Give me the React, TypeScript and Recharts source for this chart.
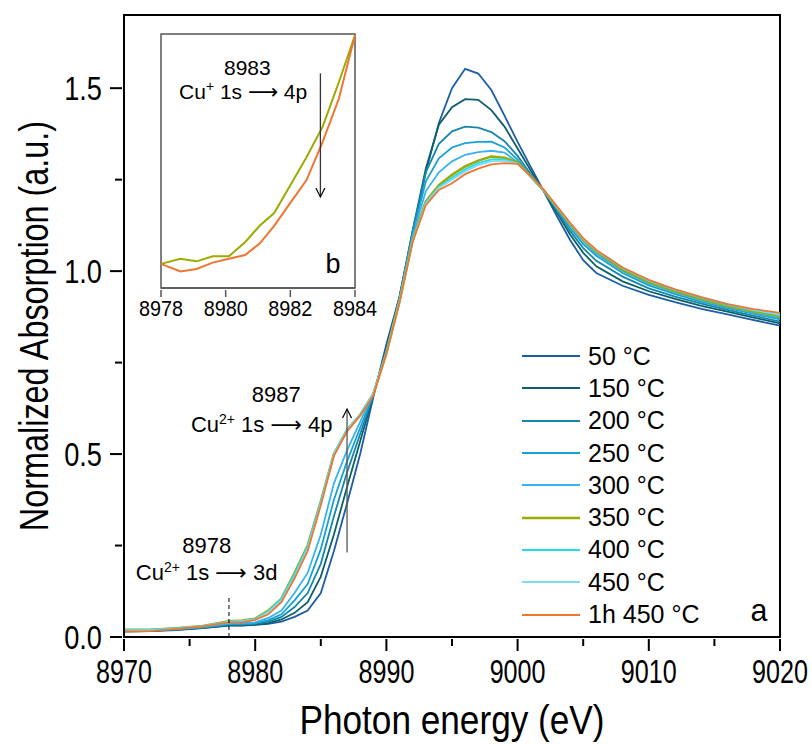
import { LineChart, Line, XAxis, YAxis, ReferenceArea, ReferenceLine, ReferenceDot } from "recharts";

const FONT = '"Liberation Sans", Arial, sans-serif';

// photon energy grid (eV)
const energies = [
  8970, 8972, 8974, 8976, 8978, 8979, 8980, 8981, 8982, 8983, 8984, 8985, 8986, 8987, 8988, 8989, 8990, 8991, 8992, 8993,
  8994, 8995, 8996, 8997, 8998, 8999, 9000, 9001, 9002, 9003, 9004, 9005, 9006, 9008, 9010, 9012, 9014, 9016, 9018, 9020,
];

const t50 = [
  0.015, 0.016, 0.019, 0.024, 0.031, 0.031, 0.033, 0.036, 0.042, 0.055, 0.072, 0.12, 0.235, 0.365, 0.5, 0.655, 0.8, 0.93, 1.1, 1.27,
  1.405, 1.5, 1.553, 1.54, 1.495, 1.425, 1.353, 1.285, 1.218, 1.15, 1.085, 1.03, 0.995, 0.96, 0.935, 0.915, 0.897, 0.882, 0.866, 0.851,
];
const t150 = [
  0.016, 0.017, 0.02, 0.025, 0.032, 0.032, 0.034, 0.038, 0.048, 0.066, 0.095, 0.165, 0.28, 0.41, 0.535, 0.66, 0.79, 0.93, 1.11, 1.28,
  1.4, 1.448, 1.47, 1.468, 1.44, 1.395, 1.335, 1.275, 1.218, 1.16, 1.1, 1.05, 1.013, 0.972, 0.945, 0.924, 0.905, 0.889, 0.873, 0.857,
];
const t200 = [
  0.017, 0.018, 0.021, 0.026, 0.034, 0.034, 0.036, 0.042, 0.055, 0.082, 0.12, 0.2, 0.33, 0.45, 0.555, 0.662, 0.785, 0.928, 1.11, 1.27,
  1.348, 1.382, 1.395, 1.392, 1.38, 1.355, 1.315, 1.265, 1.22, 1.165, 1.11, 1.063, 1.028, 0.985, 0.953, 0.93, 0.911, 0.894, 0.878, 0.862,
];
const t250 = [
  0.017, 0.018, 0.021, 0.027, 0.035, 0.036, 0.038, 0.046, 0.062, 0.1, 0.145, 0.24, 0.375, 0.48, 0.572, 0.663, 0.78, 0.925, 1.1, 1.245,
  1.308, 1.338, 1.35, 1.353, 1.354, 1.338, 1.305, 1.26, 1.22, 1.17, 1.118, 1.074, 1.042, 0.995, 0.961, 0.937, 0.916, 0.899, 0.883, 0.868,
];
const t300 = [
  0.018, 0.019, 0.022, 0.028, 0.037, 0.038, 0.04, 0.052, 0.072, 0.12, 0.175, 0.28, 0.42, 0.51, 0.588, 0.665, 0.778, 0.922, 1.095, 1.218,
  1.27, 1.3, 1.318, 1.325, 1.329, 1.324, 1.298, 1.258, 1.22, 1.173, 1.125, 1.082, 1.048, 1.0, 0.966, 0.941, 0.92, 0.902, 0.886, 0.872,
];
const t350 = [
  0.02, 0.02, 0.024, 0.03, 0.043, 0.045, 0.05, 0.072, 0.105, 0.175, 0.25, 0.37, 0.5, 0.565, 0.607, 0.664, 0.775, 0.918, 1.085, 1.19,
  1.235, 1.263, 1.286, 1.302, 1.313, 1.31, 1.297, 1.258, 1.22, 1.174, 1.128, 1.086, 1.054, 1.004, 0.97, 0.945, 0.924, 0.905, 0.89, 0.877,
];
const t400 = [
  0.019, 0.02, 0.024, 0.03, 0.042, 0.044, 0.049, 0.07, 0.105, 0.172, 0.248, 0.37, 0.502, 0.568, 0.608, 0.665, 0.776, 0.918, 1.083, 1.187,
  1.23, 1.255, 1.278, 1.295, 1.305, 1.305, 1.295, 1.258, 1.22, 1.175, 1.13, 1.088, 1.056, 1.008, 0.973, 0.948, 0.927, 0.908, 0.893, 0.88,
];
const t450 = [
  0.018, 0.019, 0.023, 0.03, 0.041, 0.043, 0.048, 0.068, 0.1, 0.165, 0.242, 0.365, 0.5, 0.566, 0.607, 0.665, 0.776, 0.918, 1.082, 1.185,
  1.228, 1.25, 1.272, 1.29, 1.3, 1.302, 1.294, 1.259, 1.221, 1.176, 1.131, 1.089, 1.057, 1.01, 0.975, 0.95, 0.929, 0.91, 0.894, 0.882,
];
const t450h = [
  0.015, 0.016, 0.022, 0.029, 0.04, 0.04, 0.047, 0.062, 0.095, 0.16, 0.235, 0.36, 0.495, 0.562, 0.605, 0.66, 0.775, 0.915, 1.08, 1.18,
  1.222, 1.24, 1.265, 1.28, 1.292, 1.295, 1.293, 1.26, 1.222, 1.177, 1.132, 1.09, 1.058, 1.01, 0.976, 0.95, 0.929, 0.91, 0.896, 0.886,
];

// inset (zoom of the pre-edge)
const insetEnergies = [8978.0, 8978.6, 8979.1, 8979.6, 8980.1, 8980.6, 8981.05, 8981.5, 8982.0, 8982.5, 8983.0, 8983.5, 8984.0];
const inset350 = [0.049, 0.053, 0.051, 0.055, 0.055, 0.066, 0.079, 0.089, 0.111, 0.133, 0.157, 0.192, 0.229];
const inset450h = [0.049, 0.043, 0.045, 0.05, 0.053, 0.056, 0.065, 0.079, 0.097, 0.115, 0.145, 0.179, 0.229];

const xTicks = [8970, 8975, 8980, 8985, 8990, 8995, 9000, 9005, 9010, 9015, 9020];
const yTicks = [0, 0.25, 0.5, 0.75, 1.0, 1.25, 1.5];
const insetTicks = [8978, 8980, 8982, 8984];

const series = [
  { key: "t50", name: "50 °C", values: t50, color: "#1c5ea6", width: 1.8 },
  { key: "t150", name: "150 °C", values: t150, color: "#0f5e68", width: 1.8 },
  { key: "t200", name: "200 °C", values: t200, color: "#1687a8", width: 1.8 },
  { key: "t250", name: "250 °C", values: t250, color: "#17a1d6", width: 1.8 },
  { key: "t300", name: "300 °C", values: t300, color: "#38b2f2", width: 1.8 },
  { key: "t350", name: "350 °C", values: t350, color: "#9cab00", width: 2.6 },
  { key: "t400", name: "400 °C", values: t400, color: "#22dcf2", width: 1.8 },
  { key: "t450", name: "450 °C", values: t450, color: "#7fd9f8", width: 1.8 },
  { key: "t450h", name: "1h 450 °C", values: t450h, color: "#ef762f", width: 1.8 },
];

const rows = energies.map((e, i) => {
  const r: Record<string, number> = { e };
  series.forEach((s) => (r[s.key] = s.values[i]));
  return r;
});
const insetRows = insetEnergies.map((e, i) => ({ e, g: inset350[i], o: inset450h[i] }));

function XTick(props: any) {
  const { x, y, payload } = props;
  const major = payload.value % 10 === 0;
  return (
    <g>
      <line x1={x} x2={x} y1={y} y2={y + (major ? 12 : 7)} stroke="#000" strokeWidth={2} />
      {major && (
        <text transform={`translate(${x},${y + 44}) scale(0.74,1)`} textAnchor="middle" fontSize={34} fontFamily={FONT} fill="#000">
          {payload.value}
        </text>
      )}
    </g>
  );
}

function YTick(props: any) {
  const { x, y, payload } = props;
  const v = payload.value;
  const major = Math.abs(v * 2 - Math.round(v * 2)) < 1e-6;
  return (
    <g>
      <line x1={x - (major ? 12 : 7)} x2={x} y1={y} y2={y} stroke="#000" strokeWidth={2} />
      {major && (
        <text transform={`translate(${x - 20},${y}) scale(0.8,1)`} textAnchor="end" dominantBaseline="central" fontSize={34} fontFamily={FONT} fill="#000">
          {v.toFixed(1)}
        </text>
      )}
    </g>
  );
}

function InsetTick(props: any) {
  const { x, y, payload } = props;
  return (
    <g>
      <line x1={x} x2={x} y1={y} y2={y + 7} stroke="#555" strokeWidth={1.5} />
      <text transform={`translate(${x},${y + 26}) scale(0.9,1)`} textAnchor="middle" fontSize={22} fontFamily={FONT} fill="#000">
        {payload.value}
      </text>
    </g>
  );
}

function arrow(dir: "up" | "down", color: string) {
  return (p: any) => {
    const tipY = dir === "up" ? Math.min(p.y1, p.y2) : Math.max(p.y1, p.y2);
    const s = dir === "up" ? 1 : -1;
    return (
      <g>
        <line x1={p.x1} x2={p.x2} y1={p.y1} y2={p.y2} stroke={color} strokeWidth={1.3} />
        <path d={`M${p.x1 - 4.5},${tipY + s * 9} L${p.x1},${tipY} L${p.x1 + 4.5},${tipY + s * 9}`} fill="none" stroke="#000" strokeWidth={1.2} />
      </g>
    );
  };
}

function textAt(content: any, size: number, anchor = "middle", scale = 1) {
  return (p: any) => (
    <text transform={`translate(${p.cx},${p.cy}) scale(${scale},1)`} textAnchor={anchor} fontSize={size} fontFamily={FONT} fill="#000">
      {content}
    </text>
  );
}

const cu = (charge: string, rest: string) => (
  <>
    <tspan>Cu</tspan>
    <tspan dy={-8} fontSize={14}>
      {charge}
    </tspan>
    <tspan dy={8}>{" 1s "}</tspan>
    <tspan fontFamily='"DejaVu Sans", sans-serif'>⟶</tspan>
    <tspan>{" " + rest}</tspan>
  </>
);

function Inset() {
  return (
    <div style={{ position: "absolute", left: 131, top: 25, width: 247, height: 300, background: "#fff" }}>
      <LineChart width={247} height={300} data={insetRows} margin={{ top: 9, right: 23, bottom: 0, left: 30 }}>
        <XAxis
          type="number"
          dataKey="e"
          domain={[8978, 8984]}
          ticks={insetTicks}
          interval={0}
          height={37}
          tickSize={0}
          tickLine={false}
          tick={<InsetTick />}
          axisLine={{ stroke: "#555", strokeWidth: 1.5 }}
        />
        <YAxis type="number" domain={[0.03, 0.23]} hide />
        <ReferenceArea x1={8978} x2={8984} y1={0.03} y2={0.23} fill="none" stroke="#555" strokeWidth={1.5} />
        <Line dataKey="g" stroke="#9cab00" strokeWidth={2} dot={false} isAnimationActive={false} />
        <Line dataKey="o" stroke="#ef762f" strokeWidth={2} dot={false} isAnimationActive={false} />
        <ReferenceLine segment={[{ x: 8982.93, y: 0.199 }, { x: 8982.93, y: 0.1017 }]} shape={arrow("down", "#333")} />
        <ReferenceDot x={8980.67} y={0.1976} r={0} shape={textAt("8983", 21)} />
        <ReferenceDot x={8980.54} y={0.1787} r={0} shape={textAt(cu("+", "4p"), 21)} />
        <ReferenceDot x={8983.32} y={0.0416} r={0} shape={textAt("b", 27)} />
      </LineChart>
    </div>
  );
}

function LegendBox() {
  return (
    <div style={{ position: "absolute", left: 522, top: 340, fontFamily: FONT, fontSize: 25, color: "#000" }}>
      {series.map((s) => (
        <div key={s.key} style={{ display: "flex", alignItems: "center", height: 32.3 }}>
          <svg width={58} height={10} style={{ display: "block" }}>
            <line x1={0} x2={58} y1={5} y2={5} stroke={s.color} strokeWidth={s.width} />
          </svg>
          <span style={{ marginLeft: 8, lineHeight: 1 }}>{s.name}</span>
        </div>
      ))}
    </div>
  );
}

export default function App() {
  return (
    <div style={{ position: "absolute", left: 0, top: 0, width: 812, height: 744, background: "#fff", fontFamily: FONT }}>
      <LineChart width={812} height={744} data={rows} margin={{ top: 15, right: 32, bottom: 0, left: 0 }}>
        <XAxis
          type="number"
          dataKey="e"
          domain={[8970, 9020]}
          ticks={xTicks}
          interval={0}
          height={107}
          tickSize={0}
          tickLine={false}
          tick={<XTick />}
          axisLine={{ stroke: "#000", strokeWidth: 2 }}
          label={{
            content: (p: any) => (
              <text
                transform={`translate(${p.viewBox.x + p.viewBox.width / 2},${p.viewBox.y + 97}) scale(0.88,1)`}
                textAnchor="middle"
                fontSize={40}
                fontFamily={FONT}
                fill="#000"
              >
                Photon energy (eV)
              </text>
            ),
          }}
        />
        <YAxis
          type="number"
          domain={[0, 1.7]}
          ticks={yTicks}
          interval={0}
          width={124}
          tickSize={0}
          tickLine={false}
          tick={<YTick />}
          axisLine={{ stroke: "#000", strokeWidth: 2 }}
          label={{
            content: (p: any) => (
              <text
                transform={`translate(34,${p.viewBox.y + p.viewBox.height / 2}) rotate(-90) scale(0.81,1)`}
                textAnchor="middle"
                dominantBaseline="central"
                fontSize={40}
                fontFamily={FONT}
                fill="#000"
              >
                Normalized Absorption (a.u.)
              </text>
            ),
          }}
        />
        <ReferenceArea x1={8970} x2={9020} y1={0} y2={1.7} fill="none" stroke="#000" strokeWidth={2} />
        {series.map((s) => (
          <Line
            key={s.key}
            dataKey={s.key}
            name={s.name}
            type="linear"
            stroke={s.color}
            strokeWidth={s.width}
            dot={false}
            isAnimationActive={false}
          />
        ))}
        <ReferenceLine segment={[{ x: 8978, y: 0 }, { x: 8978, y: 0.11 }]} stroke="#000" strokeWidth={1} strokeDasharray="4 3" />
        <ReferenceLine segment={[{ x: 8987, y: 0.231 }, { x: 8987, y: 0.623 }]} shape={arrow("up", "#555")} />
        <ReferenceDot x={8981.6} y={0.643} r={0} shape={textAt("8987", 22)} />
        <ReferenceDot x={8980.5} y={0.561} r={0} shape={textAt(cu("2+", "4p"), 22)} />
        <ReferenceDot x={8976.3} y={0.23} r={0} shape={textAt("8978", 22)} />
        <ReferenceDot x={8976.3} y={0.156} r={0} shape={textAt(cu("2+", "3d"), 22)} />
        <ReferenceDot x={9018.4} y={0.045} r={0} shape={textAt("a", 32, "middle", 0.95)} />
      </LineChart>
      <Inset />
      <LegendBox />
    </div>
  );
}
